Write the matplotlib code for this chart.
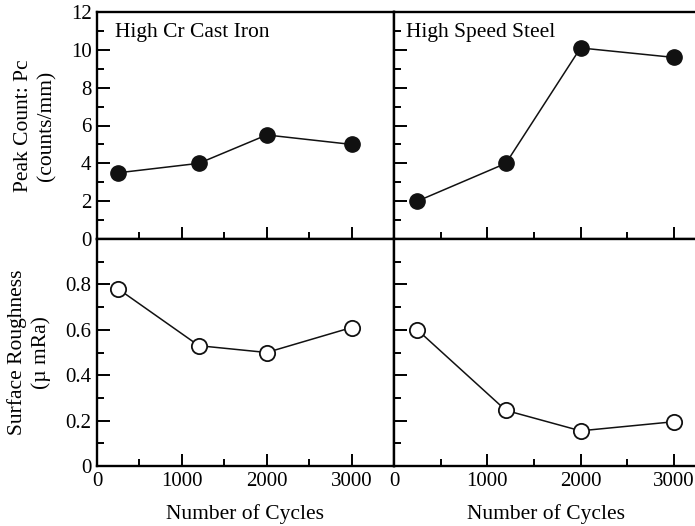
import matplotlib.pyplot as plt
from matplotlib.ticker import MultipleLocator

plt.rcParams['font.family'] = ['Liberation Serif', 'DejaVu Serif']

cycles = [250, 1200, 2000, 3000]
peak_cr = [3.5, 4.0, 5.5, 5.0]
peak_hss = [2.0, 4.0, 10.1, 9.6]
rough_cr = [0.78, 0.53, 0.50, 0.61]
rough_hss = [0.60, 0.245, 0.155, 0.195]
titles = ['High Cr Cast Iron', 'High Speed Steel']

fig = plt.figure(figsize=(6.95, 5.26), dpi=100)
W, H = 695, 526
# panel boxes in pixels: left, right edges and top, bottom
cols = [(97, 394, 3500), (394, 698, 3260)]
rows = [(12, 239), (239, 466)]
fs = 15.5

axes = [[None, None], [None, None]]
for r, (top, bot) in enumerate(rows):
    for c, (x0, x1, xmax) in enumerate(cols):
        ax = fig.add_axes([x0 / W, 1 - bot / H, (x1 - x0) / W, (bot - top) / H])
        ax.set_xlim(0, xmax)
        ax.xaxis.set_major_locator(MultipleLocator(1000))
        ax.xaxis.set_minor_locator(MultipleLocator(500))
        if r == 0:
            ax.set_ylim(0, 12)
            ax.yaxis.set_major_locator(MultipleLocator(2))
            ax.yaxis.set_minor_locator(MultipleLocator(1))
        else:
            ax.set_ylim(0, 1.0)
            ax.yaxis.set_major_locator(MultipleLocator(0.2))
            ax.yaxis.set_minor_locator(MultipleLocator(0.1))
        ax.tick_params(which='both', direction='in', labelsize=15, width=1.4,
                       top=False, right=False, pad=4)
        ax.tick_params(which='major', length=9)
        ax.tick_params(which='minor', length=5)
        for s in ax.spines.values():
            s.set_linewidth(1.7)
        if c == 1:
            ax.tick_params(labelleft=False)
        if r == 0:
            ax.tick_params(labelbottom=False)
        axes[r][c] = ax

def fmt_rough(v, pos):
    return '0' if v == 0 else ('' if v > 0.95 else f'{v:.1f}')

axes[1][0].yaxis.set_major_formatter(plt.FuncFormatter(fmt_rough))

for c, vals in enumerate([peak_cr, peak_hss]):
    ax = axes[0][c]
    ax.plot(cycles, vals, '-o', color='#111111', lw=1.1, ms=11,
            mfc='#111111', mec='#111111', clip_on=False)
    ax.text(0.06 if c == 0 else 0.04, 0.95, titles[c], transform=ax.transAxes,
            fontsize=fs, va='top', ha='left')

for c, vals in enumerate([rough_cr, rough_hss]):
    ax = axes[1][c]
    ax.plot(cycles, vals, '-o', color='#111111', lw=1.1, ms=11,
            mfc='white', mec='#111111', mew=1.3, clip_on=False)
    ax.set_xlabel('Number of Cycles', fontsize=fs, labelpad=10)

axes[1][1].xaxis.set_major_formatter(
    plt.FuncFormatter(lambda v, p: f'{int(v)}'))

axes[0][0].set_ylabel('Peak Count: Pc\n(counts/mm)', fontsize=fs,
                      linespacing=1.3, labelpad=10)
axes[1][0].set_ylabel('Surface Roughness\n(\u00b5 mRa)', fontsize=fs,
                      linespacing=1.3, labelpad=10)

fig.savefig('out.png', dpi=100)
